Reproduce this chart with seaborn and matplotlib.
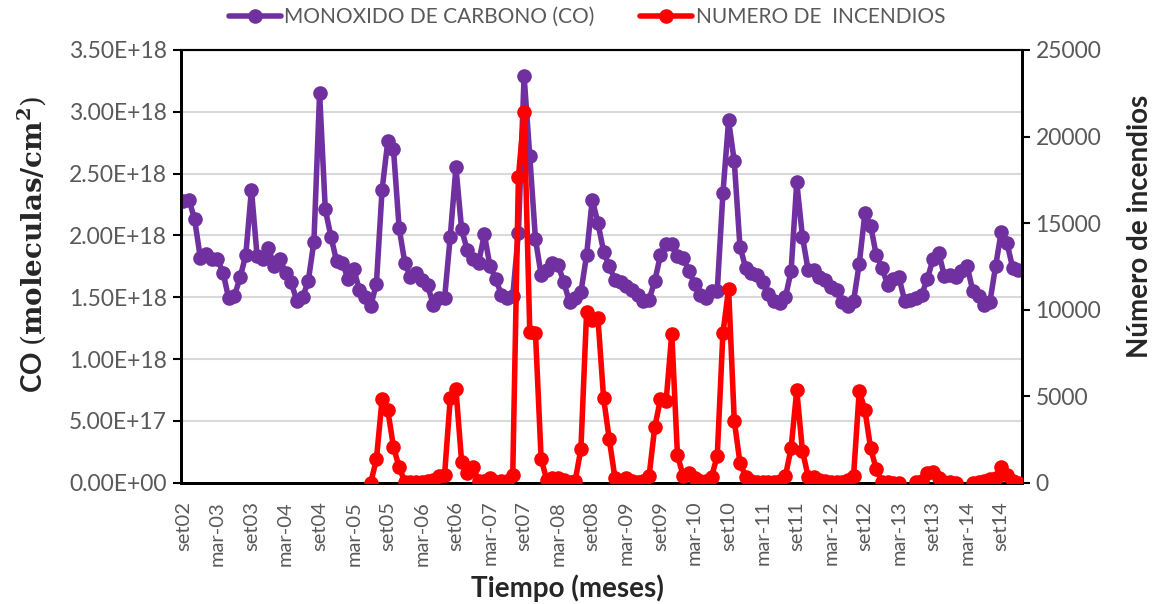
import numpy as np
import pandas as pd
import matplotlib
matplotlib.use("Agg")
import matplotlib.pyplot as plt
from matplotlib.lines import Line2D
import seaborn as sns

# monthly series, set-2002 .. dic-2014 (148 months)
co_e18 = [2.28, 2.29, 2.13, 1.82, 1.85, 1.81, 1.81, 1.70, 1.49, 1.51,
          1.66, 1.84, 2.37, 1.83, 1.81, 1.90, 1.75, 1.81, 1.70, 1.62,
          1.47, 1.50, 1.63, 1.95, 3.15, 2.21, 1.99, 1.79, 1.78, 1.65,
          1.73, 1.56, 1.50, 1.43, 1.61, 2.37, 2.76, 2.70, 2.06, 1.78,
          1.66, 1.70, 1.64, 1.60, 1.44, 1.49, 1.49, 1.99, 2.55, 2.05,
          1.88, 1.81, 1.78, 2.01, 1.75, 1.65, 1.52, 1.49, 1.51, 2.02,
          3.29, 2.64, 1.97, 1.68, 1.72, 1.78, 1.76, 1.62, 1.46, 1.49,
          1.54, 1.84, 2.29, 2.10, 1.87, 1.75, 1.64, 1.62, 1.59, 1.56,
          1.52, 1.47, 1.48, 1.63, 1.84, 1.93, 1.93, 1.83, 1.82, 1.71,
          1.61, 1.52, 1.49, 1.55, 1.55, 2.34, 2.93, 2.60, 1.91, 1.74,
          1.70, 1.68, 1.62, 1.53, 1.47, 1.45, 1.50, 1.71, 2.43, 1.99,
          1.72, 1.72, 1.66, 1.64, 1.58, 1.56, 1.46, 1.43, 1.47, 1.77,
          2.18, 2.08, 1.84, 1.74, 1.60, 1.65, 1.66, 1.47, 1.48, 1.49,
          1.52, 1.65, 1.81, 1.86, 1.67, 1.68, 1.66, 1.71, 1.75, 1.55,
          1.51, 1.44, 1.46, 1.75, 2.03, 1.94, 1.74, 1.72]

nan = np.nan
incendios = [nan] * 33 + [
    0, 1350, 4820, 4200, 2080, 890, 60, 30, 50, 30,
    80, 150, 400, 450, 4880, 5400, 1210, 540, 890, 120,
    100, 250, 60, 100, 80, 420, 17650, 21400, 8730, 8670,
    1380, 150, 250, 300, 150, 40, 120, 1950, 9850, 9400,
    9500, 4870, 2500, 250, 120, 300, 120, 60, 120, 380,
    3200, 4820, 4700, 8620, 1580, 400, 540, 300, 120, 110,
    350, 1540, 8630, 11200, 3580, 1160, 350, 80, 50, 40,
    40, 50, 100, 380, 1980, 5350, 1850, 350, 330, 150,
    100, 60, 40, 50, 150, 400, 5300, 4200, 2000, 770,
    50, 20, 10, 10, nan, nan, 30, 100, 580, 640,
    250, 30, 20, 10, nan, nan, 10, 60, 120, 200,
    300, 920, 450, 80, 10]

tick_labels = ["set02", "mar-03", "set03", "mar-04", "set04", "mar-05", "set05",
               "mar-06", "set06", "mar-07", "set07", "mar-08", "set08", "mar-09",
               "set09", "mar-10", "set10", "mar-11", "set11", "mar-12", "set12",
               "mar-13", "set13", "mar-14", "set14"]

purple = "#7030A0"
red = "#FF0000"
grey = "#595959"

df = pd.DataFrame({"mes": np.arange(len(co_e18)),
                   "co": np.array(co_e18) * 1e18,
                   "inc": incendios})
df["seg"] = df["inc"].isna().cumsum()
df_red = df.dropna(subset=["inc"])

sns.set_style("white")
plt.rcParams["font.family"] = ["Lato", "DejaVu Sans"]
plt.rcParams["mathtext.fontset"] = "dejavuserif"

W, H = 1153, 604
fig = plt.figure(figsize=(W / 100, H / 100), dpi=100)
ax = fig.add_axes([181 / W, 1 - 482.7 / H, (1021.7 - 181) / W, (482.7 - 50) / H])

lw, ms = 4, 10.5
sns.lineplot(data=df, x="mes", y="co", ax=ax, color=purple, lw=lw,
             marker="o", markersize=ms, markeredgewidth=0, zorder=3)
ax2 = ax.twinx()
sns.lineplot(data=df_red, x="mes", y="inc", units="seg", estimator=None, ax=ax2,
             color=red, lw=lw, marker="o", markersize=ms, markeredgewidth=0, zorder=3)

ax.set_xlim(-0.4, 147.6)
ax.set_ylim(0, 3.5e18)
ax2.set_ylim(0, 25000)

ax.set_yticks(np.arange(0, 3.51e18, 0.5e18))
ax.set_yticklabels([f"{v:.2E}" for v in np.arange(0, 3.51e18, 0.5e18)])
ax2.set_yticks(np.arange(0, 25001, 5000))

ax.set_xticks(np.arange(0, 145, 6))
ax.set_xticklabels(tick_labels, rotation=90)
ax.set_xticks(np.arange(0, 148, 1), minor=True)

ax.yaxis.grid(True, color="#D9D9D9", lw=1.5)
ax.set_axisbelow(True)

for a in (ax, ax2):
    a.set_xlabel("")
    a.set_ylabel("")
    for s in a.spines.values():
        s.set_color("black")
        s.set_linewidth(2)
    a.spines["top"].set_linewidth(1.5)
    a.tick_params(axis="both", which="both", colors="black", labelcolor=grey,
                  labelsize=16.5, direction="out", length=6, width=1.5)
ax.tick_params(axis="x", which="both", length=6, width=1.2, pad=7, labelsize=14.5)
ax.tick_params(axis="y", pad=4)
ax2.tick_params(axis="y", pad=4)

fig.text(32 / W, 1 - 244 / H, r"CO $\left(\mathbf{moleculas/cm^2}\right)$",
         rotation=90, ha="center", va="center", fontsize=20, fontweight="bold")
fig.text(1140 / W, 1 - 226 / H, "Número de incendios", rotation=90,
         ha="center", va="center", fontsize=20, fontweight="bold")
fig.text(567 / W, 1 - 588 / H, "Tiempo (meses)", ha="center", va="center",
         fontsize=20, fontweight="bold")

handles = [Line2D([], [], color=purple, lw=lw, marker="o", markersize=ms, markeredgewidth=0),
           Line2D([], [], color=red, lw=lw, marker="o", markersize=ms, markeredgewidth=0)]
leg = fig.legend(handles, ["MONOXIDO DE CARBONO (CO)", "NUMERO DE  INCENDIOS"],
                 loc="center", bbox_to_anchor=(587 / W, 1 - 17 / H), ncol=2,
                 frameon=False, fontsize=15, handlelength=2.5, handletextpad=0.15,
                 columnspacing=2.2)
for t in leg.get_texts():
    t.set_color(grey)

fig.savefig("out.png", dpi=100)
